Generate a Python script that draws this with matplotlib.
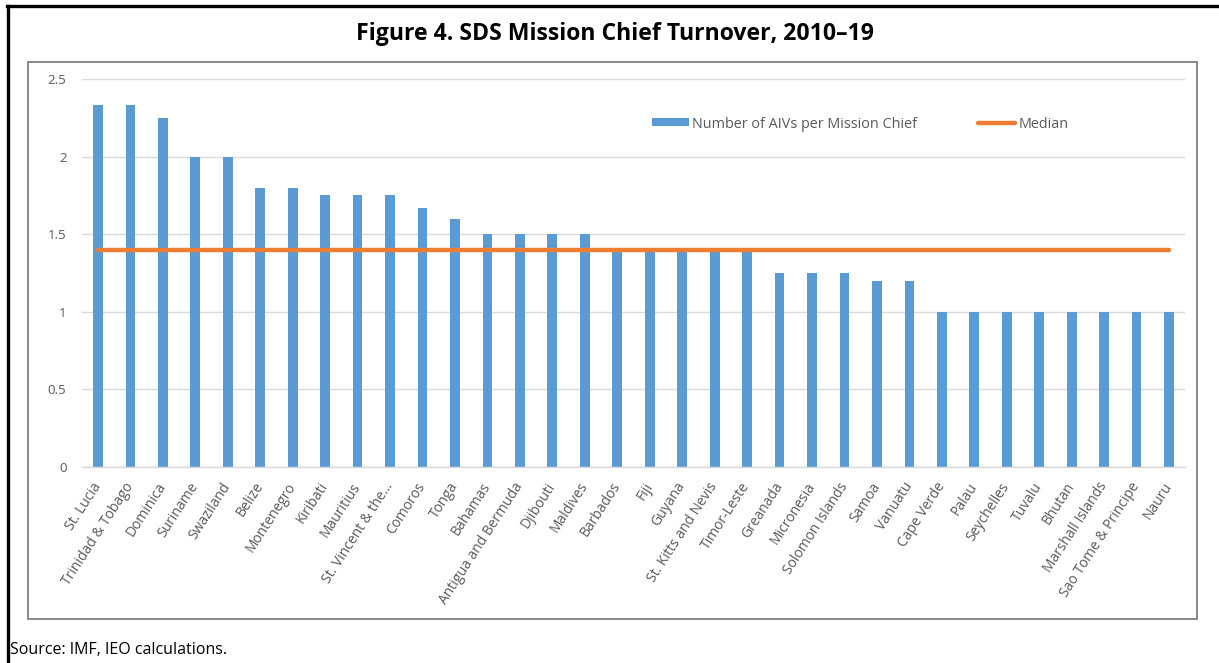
import matplotlib
matplotlib.use("Agg")
import matplotlib.pyplot as plt
from matplotlib.lines import Line2D
from matplotlib.patches import Rectangle, Patch

plt.rcParams['font.family'] = ['Open Sans', 'DejaVu Sans']

countries = ["St. Lucia", "Trinidad & Tobago", "Dominica", "Suriname", "Swaziland",
             "Belize", "Montenegro", "Kiribati", "Mauritius", "St. Vincent & the...",
             "Comoros", "Tonga", "Bahamas", "Antigua and Bermuda", "Djibouti",
             "Maldives", "Barbados", "Fiji", "Guyana", "St. Kitts and Nevis",
             "Timor-Leste", "Greanada", "Micronesia", "Solomon Islands", "Samoa",
             "Vanuatu", "Cape Verde", "Palau", "Seychelles", "Tuvalu", "Bhutan",
             "Marshall Islands", "Sao Tome & Principe", "Nauru"]
aivs = [2.33, 2.33, 2.25, 2.0, 2.0, 1.8, 1.8, 1.75, 1.75, 1.75, 1.67, 1.6,
        1.5, 1.5, 1.5, 1.5, 1.4, 1.4, 1.4, 1.4, 1.4, 1.25, 1.25, 1.25, 1.2,
        1.2, 1.0, 1.0, 1.0, 1.0, 1.0, 1.0, 1.0, 1.0]
median = 1.4
yticks = [0, 0.5, 1, 1.5, 2, 2.5]
yticklabels = ["0", "0.5", "1", "1.5", "2", "2.5"]

W, H = 1219, 663
fig = plt.figure(figsize=(W / 100, H / 100), dpi=100)

n = len(countries)
x = list(range(n))

ax_l, ax_r = 81.75, 1185.25
ax_top, ax_bot = 79, 467
ax = fig.add_axes([ax_l / W, 1 - ax_bot / H, (ax_r - ax_l) / W, (ax_bot - ax_top) / H])

bar_color = "#5B9BD5"
line_color = "#ED7D31"

ax.bar(x, aivs, width=0.30, color=bar_color, zorder=2,
       label="Number of AIVs per Mission Chief")
ax.plot([x[0], x[-1]], [median, median], color=line_color, lw=3.2,
        solid_capstyle="round", zorder=3, label="Median")

ax.set_xlim(-0.5, n - 0.5)
ax.set_ylim(0, 2.5)
ax.set_yticks(yticks)
ax.set_yticklabels(yticklabels)
ax.yaxis.grid(True, color="#D9D9D9", lw=1, zorder=0)
ax.set_axisbelow(True)
for s in ["top", "right", "left"]:
    ax.spines[s].set_visible(False)
ax.spines["bottom"].set_color("#D9D9D9")
ax.spines["bottom"].set_linewidth(1)

ax.set_xticks(x)
ax.set_xticklabels(countries, rotation=57, ha="right", va="center",
                   rotation_mode="anchor", fontsize=10, color="#595959")
ax.tick_params(axis="x", length=0, pad=12)
ax.tick_params(axis="y", length=0, pad=11, labelsize=9.5, labelcolor="#595959")

handles = [Patch(facecolor=bar_color, edgecolor="none"),
           Line2D([0], [0], color=line_color, lw=3.2, solid_capstyle="round")]
leg = ax.legend(handles, ["Number of AIVs per Mission Chief", "Median"],
                ncol=2, loc="center left",
                bbox_to_anchor=((652 - ax_l) / (ax_r - ax_l), (ax_bot - 124) / (ax_bot - ax_top)),
                frameon=False, fontsize=10.4, handlelength=2.55, handleheight=0.45,
                handletextpad=0.25, columnspacing=4.2, borderpad=0, borderaxespad=0,
                labelcolor="#595959")

# inner chart frame
fig.add_artist(Rectangle((28 / W, 1 - 619 / H), (1197 - 28) / W, (619 - 62) / H,
                         transform=fig.transFigure, fill=False,
                         edgecolor="#7F7F7F", lw=1.3))
# outer black border (top and left)
fig.add_artist(Line2D([7 / W, 1.0], [1 - 6 / H, 1 - 6 / H], transform=fig.transFigure,
                      color="black", lw=2.4))
fig.add_artist(Line2D([8 / W, 8 / W], [0.0, 1 - 6 / H], transform=fig.transFigure,
                      color="black", lw=2.4))

fig.text(615 / W, 1 - 34 / H, "Figure 4. SDS Mission Chief Turnover, 2010\u201319",
         ha="center", va="center", fontsize=16.6, fontweight="bold", color="black")
fig.text(10 / W, 1 - 650 / H, "Source: IMF, IEO calculations.",
         ha="left", va="center", fontsize=11.5, color="black")

fig.savefig("out.png", dpi=100)
